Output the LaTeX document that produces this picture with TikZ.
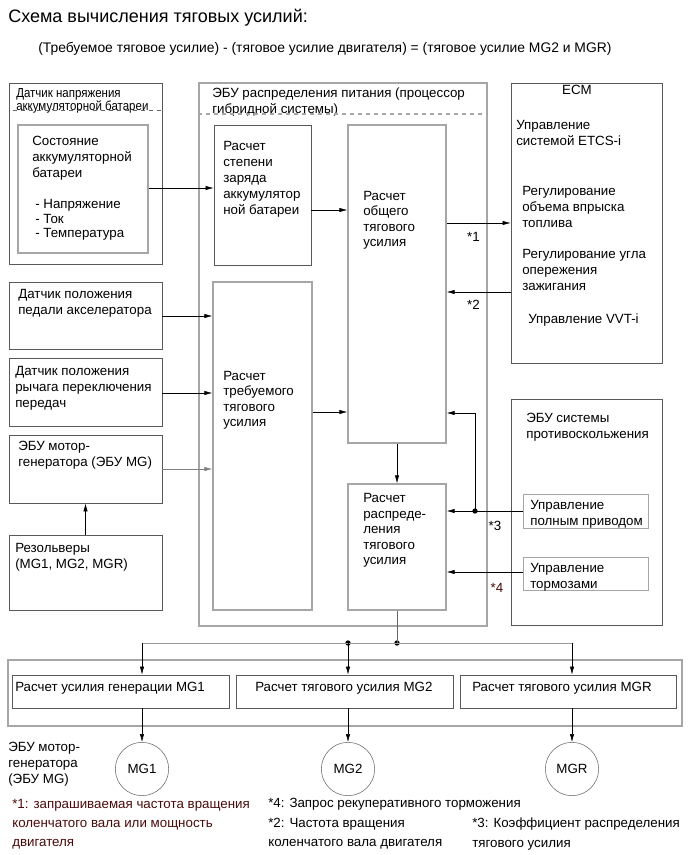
\documentclass[tikz,border=0pt]{standalone}
\usepackage{fontspec}
\setmainfont{Liberation Sans}
\newfontfamily\narrowfont[FakeStretch=0.88]{Liberation Sans}
\usetikzlibrary{fit,arrows.meta}
\definecolor{notered}{HTML}{4A0A0A}

\begin{document}
\begin{tikzpicture}[x=0.75pt, y=-0.75pt,
  every node/.style={inner sep=0pt, font=\fontsize{10}{12}\selectfont},
  box/.style={draw=black!65, line width=0.5pt},
  gbox/.style={draw=black!35, line width=0.9pt},
  txt/.style={anchor=north west, align=left},
  arr/.style={-{Latex[length=6pt,width=3.2pt]}, line width=0.4pt},
  circ/.style={circle, draw=black!60, line width=0.4pt, minimum size=40pt},
  dot/.style={circle, fill=black, minimum size=4pt}]
			\useasboundingbox (0,0) rectangle (691,855);
			\node[anchor=west, font=\fontsize{13.5}{15}\selectfont] (title) at (8,18) {Схема вычисления тяговых усилий:};
			\node[anchor=west, font=\fontsize{10.4}{12}\selectfont] (formula) at (38,49) {(Требуемое тяговое усилие) - (тяговое усилие двигателя) = (тяговое усилие MG2 и MGR)};
			
			% left column
			\node[box, fit={(9,83) (162,264)}] (bat) {};
			\node[txt, font=\narrowfont\fontsize{9.8}{9.8}\selectfont] (battext) at (16,88) {Датчик напряжения\\аккумуляторной батареи};
			\draw[black!60, dashed] (bat.west |- 0,110) ++(4,0) -- (bat.east |- 0,110);
			\node[gbox, fit={(18,125) (148,253)}] (soc) {};
			\node[txt] (soctext) at (32,136) {Состояние\\аккумуляторной\\батареи};
			\node[txt, font=\fontsize{10}{11}\selectfont] (soclist) at (35,199) {- Напряжение\\- Ток\\- Температура};
			\node[box, fit={(9,282) (162,349)}] (ped) {};
			\node[txt] (pedtext) at (18,289) {Датчик положения\\педали акселератора};
			\node[box, fit={(9,358) (162,426)}] (lev) {};
			\node[txt] (levtext) at (15,366) {Датчик положения\\рычага переключения\\передач};
			\node[box, fit={(9,435) (162,503)}] (mgecu) {};
			\node[txt] (mgecutext) at (18,441) {ЭБУ мотор-\\генератора (ЭБУ MG)};
			\node[box, fit={(9,535) (162,610)}] (res) {};
			\node[txt] (restext) at (15,543) {Резольверы\\(MG1, MG2, MGR)};
			
			% hybrid processor
			\node[gbox, fit={(199,83) (487,626)}] (hv) {};
			\node[txt] (hvtext) at (212,88) {ЭБУ распределения питания (процессор\\гибридной системы)};
			\draw[black!35, dashed, line width=0.9pt] (hv.west |- 0,114) -- (hv.east |- 0,114);
			\node[box, fit={(214,125) (311,265)}] (zar) {};
			\node[txt] (zartext) at (223,141) {Расчет\\степени\\заряда\\аккумулятор\\ной батареи};
			\node[gbox, fit={(213,282) (312,610)}] (treb) {};
			\node[txt, font=\fontsize{10}{11.5}\selectfont] (trebtext) at (223,371) {Расчет\\требуемого\\тягового\\усилия};
			\node[gbox, fit={(348,125) (446,443)}] (obsh) {};
			\node[txt, font=\fontsize{10}{11.5}\selectfont] (obshtext) at (363,191) {Расчет\\общего\\тягового\\усилия};
			\node[gbox, fit={(348,484) (446,610)}] (rasp) {};
			\node[txt, font=\fontsize{10}{11.7}\selectfont] (rasptext) at (363,493) {Расчет\\распреде-\\ления\\тягового\\усилия};
			
			% right column
			\node[box, fit={(511,83) (662,363)}] (ecm) {};
			\node[anchor=center] (ecmtext) at (577,90) {ECM};
			\node[txt] (etcs) at (516,120) {Управление\\системой ETCS-i};
			\node[txt] (fuel) at (522,186) {Регулирование\\объема впрыска\\топлива};
			\node[txt] (ign) at (522,249) {Регулирование угла\\опережения\\зажигания};
			\node[txt] (vvt) at (528,314) {Управление VVT-i};
			\node[box, fit={(511,399) (662,625)}] (abs) {};
			\node[txt] (abstext) at (526,413) {ЭБУ системы\\противоскольжения};
			\node[gbox, line width=0.6pt, fit={(523,494) (648,528)}] (awd) {};
			\node[txt] (awdtext) at (530,500) {Управление\\полным приводом};
			\node[gbox, line width=0.6pt, fit={(523,557) (648,590)}] (brk) {};
			\node[txt] (brktext) at (530,563) {Управление\\тормозами};
			
			% bottom
			\node[gbox, fit={(8,660) (682,726)}] (mgbox) {};
			\node[box, fit={(12,675) (229,708)}] (mg1c) {};
			\node[txt] (mg1ctext) at (15,682) {Расчет усилия генерации MG1};
			\node[box, fit={(236,675) (453,708)}] (mg2c) {};
			\node[txt] (mg2ctext) at (255,682) {Расчет тягового усилия MG2};
			\node[box, fit={(460,675) (676,708)}] (mgrc) {};
			\node[txt] (mgrctext) at (472,682) {Расчет тягового усилия MGR};
			\node[circ] (mg1) at (142,769) {MG1};
			\node[circ] (mg2) at (348,769) {MG2};
			\node[circ] (mgr) at (572,769) {MGR};
			\node[txt] (ecumg) at (8,742) {ЭБУ мотор-\\генератора\\(ЭБУ MG)};
			
			% notes
			\node[txt, text=notered, font=\fontsize{10}{14.3}\selectfont] (note1) at (12,799) {*1: запрашиваемая частота вращения\\коленчатого вала или мощность\\двигателя};
			\node[txt] (note4) at (268,798) {*4: Запрос рекуперативного торможения};
			\node[txt, font=\fontsize{10}{14.3}\selectfont] (note2) at (268,818) {*2: Частота вращения\\коленчатого вала двигателя};
			\node[txt, font=\fontsize{10}{14.3}\selectfont] (note3) at (472,818) {*3: Коэффициент распределения\\тягового усилия};
			
			% connectors
			\draw[arr] (soc.east |- 0,188) -- (zar.west |- 0,188);
			\draw[arr] (zar.east |- 0,210) -- (obsh.west |- 0,210);
			\draw[arr] (obsh.east |- 0,223) -- (ecm.west |- 0,223) node[pos=0.42, below=7pt, anchor=north] (s1) {*1};
			\draw[arr] (ecm.west |- 0,292) -- (obsh.east |- 0,292) node[pos=0.58, below=6pt, anchor=north] (s2) {*2};
			\draw[arr] (ped.east |- 0,316) -- (treb.west |- 0,316);
			\draw[arr] (lev.east |- 0,393) -- (treb.west |- 0,393);
			\draw[arr, black!50] (mgecu.east |- 0,469) -- (treb.west |- 0,469);
			\draw[arr] (res.north) -- (mgecu.south);
			\draw[arr] (treb.east |- 0,412) -- (obsh.west |- 0,412);
			\draw[arr] (obsh.south) -- (rasp.north);
			\node[dot] (j3) at (475,511) {};
			\draw[arr] (awd.west |- 0,511) -- (rasp.east |- 0,511);
			\draw[arr] (j3.center) |- (obsh.east |- 0,413);
			\node (s3) at (495,526) {*3};
			\draw[arr] (brk.west |- 0,572) -- (rasp.east |- 0,572);
			\node[text=notered] (s4) at (497,588) {*4};
			
			\node[dot] (j1) at (397,643) {};
			\node[dot] (j2) at (348,643) {};
			\coordinate (t1) at (142,643);
			\coordinate (t3) at (572,643);
			\draw[black!60] (rasp.south) -- (j1.center);
			\draw[black!40, line width=0.7pt] (t1) -- (t3);
			\draw[arr] (t1) -- (mg1c.north -| t1);
			\draw[arr] (j2.center) -- (mg2c.north -| j2);
			\draw[arr] (t3) -- (mgrc.north -| t3);
			\draw[arr] (mg1c.south -| mg1) -- (mg1);
			\draw[arr] (mg2c.south -| mg2) -- (mg2);
			\draw[arr] (mgrc.south -| mgr) -- (mgr);
\end{tikzpicture}
\end{document}
